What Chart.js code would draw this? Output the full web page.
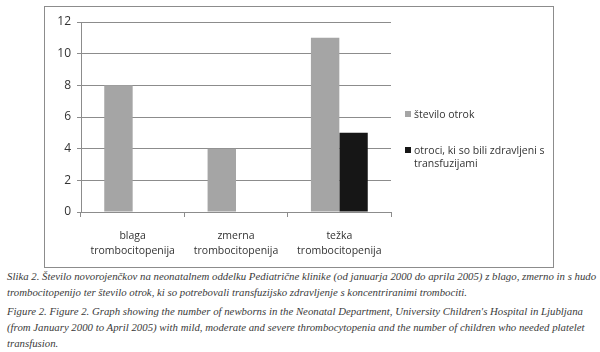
<!DOCTYPE html>
<html>
<head>
<meta charset="utf-8">
<script src="https://cdn.jsdelivr.net/npm/chart.js@4"></script>
<style>
  body { margin: 0; background: #fff; width: 600px; height: 352px; position: relative; overflow: hidden; }
  #frame { position: absolute; left: 44px; top: 6px; width: 508px; height: 260px; border: 1px solid #8c8c8c; }
  #frame canvas { position: absolute; left: 0; top: 0; }
  #legend { position: absolute; left: 359px; top: 101px; width: 150px; font-family: "Open Sans", sans-serif; font-size: 10.5px; color: #333; }
  .item { position: relative; padding-left: 10px; line-height: 13px; margin-bottom: 23px; }
  .item span.box { position: absolute; left: 1px; top: 3px; width: 6px; height: 6px; }
  #caption { position: absolute; left: 7px; top: 268px; font-family: "Liberation Serif", "Times New Roman", serif; font-style: italic; font-size: 10.8px; color: #3a3a3a; line-height: 16px; white-space: nowrap; }
  #caption p { margin: 0 0 3px 0; }
</style>
</head>
<body>
<div id="frame">
  <canvas id="chart" width="508" height="260"></canvas>
  <div id="legend"></div>
</div>
<div id="caption">
  <p>Slika 2. Število novorojenčkov na neonatalnem oddelku Pediatrične klinike (od januarja 2000 do aprila 2005) z blago, zmerno in s hudo<br>trombocitopenijo ter število otrok, ki so potrebovali transfuzijsko zdravljenje s koncentriranimi trombociti.</p>
  <p>Figure 2. Figure 2. Graph showing the number of newborns in the Neonatal Department, University Children's Hospital in Ljubljana<br>(from January 2000 to April 2005) with mild, moderate and severe thrombocytopenia and the number of children who needed platelet<br>transfusion.</p>
</div>
<script>
const categories = [["blaga", "trombocitopenija"], ["zmerna", "trombocitopenija"], ["težka", "trombocitopenija"]];
const seriesNames = ["število otrok", "otroci, ki so bili zdravljeni s transfuzijami"];
const childrenCount = [8, 4, 11];
const transfusedCount = [null, null, 5];
const yTicks = [0, 2, 4, 6, 8, 10, 12];

const gridColor = "#8c8c8c";
const textColor = "#333";

const chart = new Chart(document.getElementById("chart"), {
  type: "bar",
  data: {
    labels: categories,
    datasets: [
      { label: seriesNames[0], data: childrenCount, backgroundColor: "#a5a5a5" },
      { label: seriesNames[1], data: transfusedCount, backgroundColor: "#161616" },
    ],
  },
  options: {
    responsive: false,
    animation: false,
    layout: { padding: { top: 15, right: 162, bottom: 0, left: 0 } },
    plugins: { legend: { display: false }, tooltip: { enabled: false } },
    datasets: { bar: { categoryPercentage: 0.55, barPercentage: 1 } },
    scales: {
      x: {
        grid: { drawOnChartArea: false, drawTicks: true, tickLength: 5, color: gridColor },
        border: { color: gridColor },
        ticks: { color: textColor, font: { family: "Open Sans", size: 10.5, lineHeight: 1.45 }, padding: 11, maxRotation: 0 },
        afterFit: (s) => { s.height = 55; },
      },
      y: {
        min: 0,
        max: 12,
        afterBuildTicks: (s) => { s.ticks = yTicks.map((v) => ({ value: v })); },
        grid: { color: gridColor, tickLength: 4 },
        border: { color: gridColor },
        ticks: { color: textColor, font: { family: "Open Sans", size: 12 }, padding: 6 },
        afterFit: (s) => { s.width = 36; },
      },
    },
  },
});

// legend, built from the chart's own items so the long label can wrap
const legend = document.getElementById("legend");
chart.options.plugins.legend.labels.generateLabels(chart).forEach((it) => {
  const d = document.createElement("div");
  d.className = "item";
  d.innerHTML = '<span class="box" style="background:' + it.fillStyle + '"></span>' + it.text;
  legend.appendChild(d);
});
</script>
</body>
</html>
